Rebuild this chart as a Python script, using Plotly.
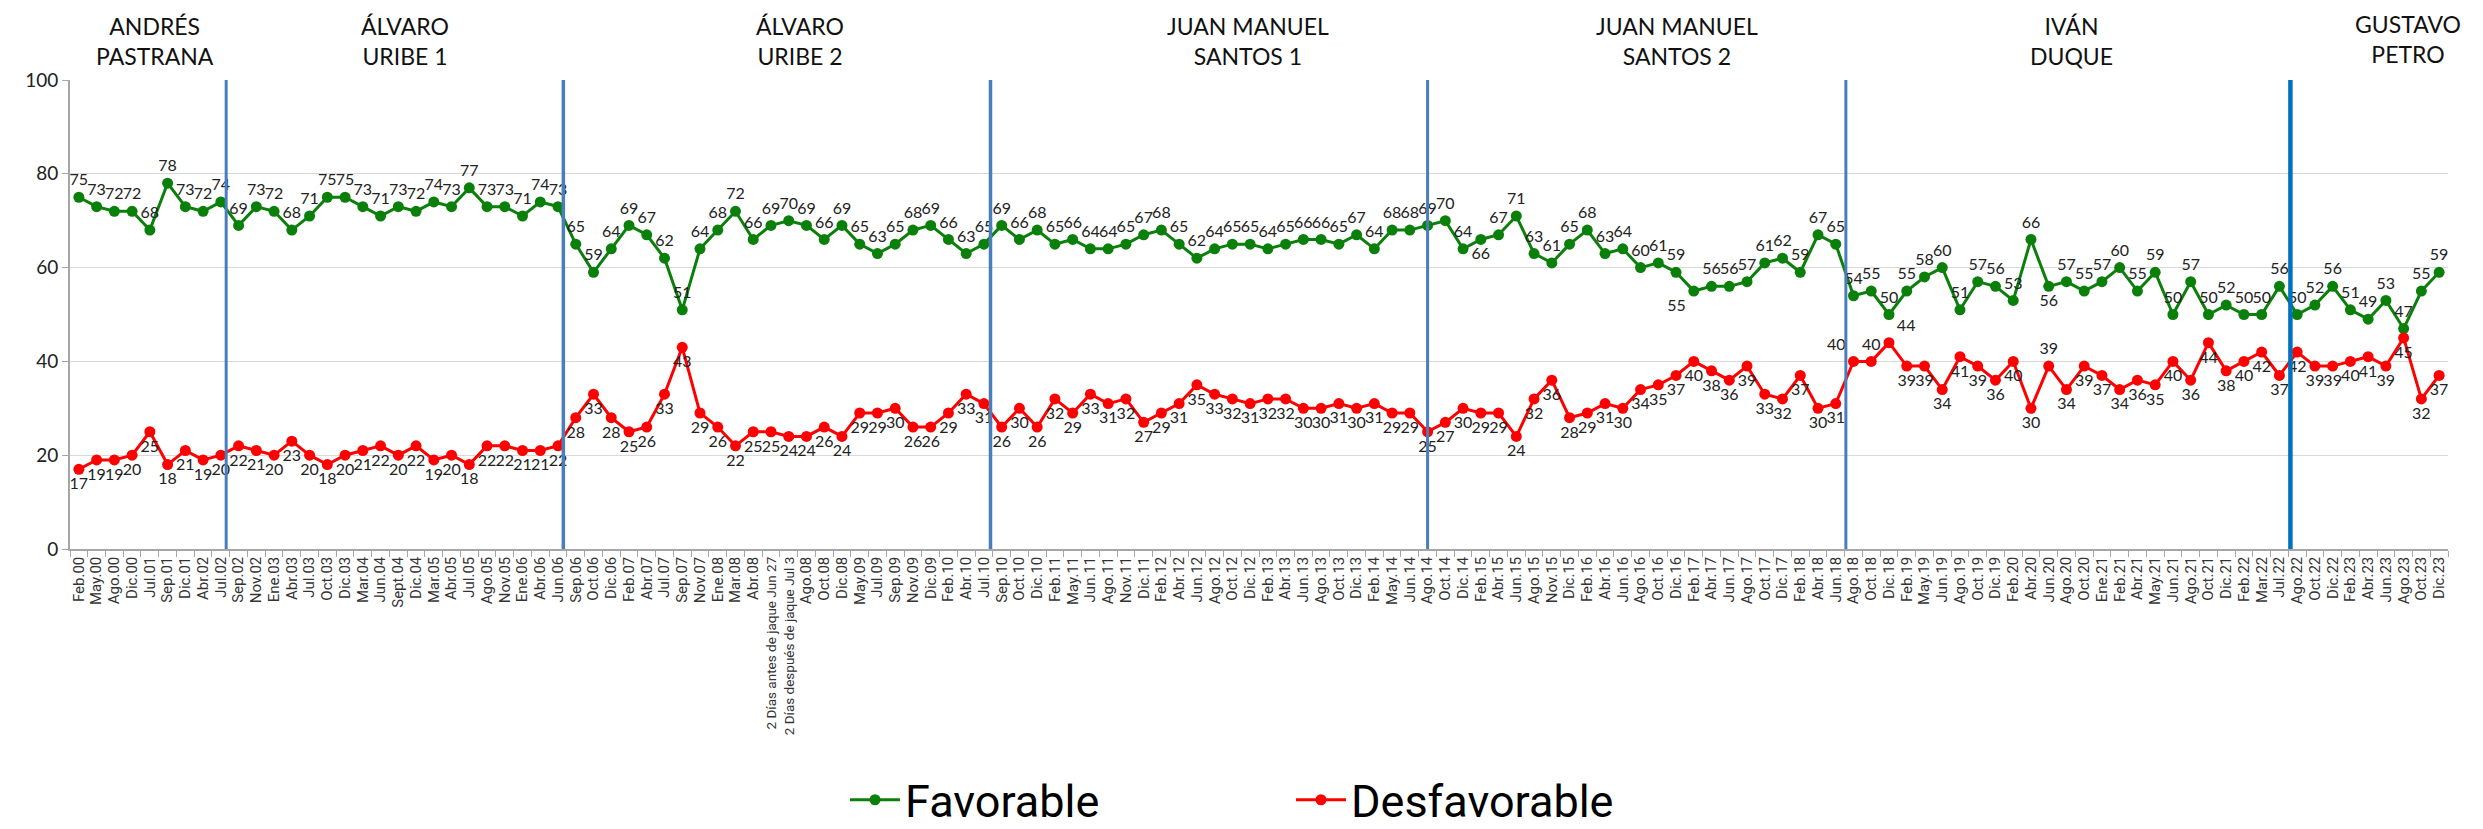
import plotly.graph_objects as go

categories = [
    "Feb.00", "May.00", "Ago.00", "Dic.00", "Jul.01", "Sep.01", "Dic.01", "Abr.02", "Jul.02",
    "Sep.02", "Nov.02", "Ene.03", "Abr.03", "Jul.03", "Oct.03", "Dic.03", "Mar.04", "Jun.04", "Sept.04",
    "Dic.04", "Mar.05", "Abr.05", "Jul.05", "Ago.05", "Nov.05", "Ene.06", "Abr.06", "Jun.06",
    "Sep.06", "Oct.06", "Dic.06", "Feb.07", "Abr.07", "Jul.07", "Sep.07", "Nov.07", "Ene.08", "Mar.08",
    "Abr.08", "2 Días antes de jaque Jun 27", "2 Días después de jaque Jul 3", "Ago.08", "Oct.08", "Dic.08",
    "May.09", "Jul.09", "Sep.09", "Nov.09", "Dic.09", "Feb.10", "Abr.10", "Jul.10",
    "Sep.10", "Oct.10", "Dic.10", "Feb.11", "May.11", "Jun.11", "Ago.11", "Nov.11", "Dic.11", "Feb.12",
    "Abr.12", "Jun.12", "Ago.12", "Oct.12", "Dic.12", "Feb.13", "Abr.13", "Jun.13", "Ago.13", "Oct.13",
    "Dic.13", "Feb.14", "May.14", "Jun.14",
    "Ago.14", "Oct.14", "Dic.14", "Feb.15", "Abr.15", "Jun.15", "Ago.15", "Nov.15", "Dic.15", "Feb.16",
    "Abr.16", "Jun.16", "Ago.16", "Oct.16", "Dic.16", "Feb.17", "Abr.17", "Jun.17", "Ago.17", "Oct.17",
    "Dic.17", "Feb.18", "Abr.18", "Jun.18",
    "Ago.18", "Oct.18", "Dic.18", "Feb.19", "May.19", "Jun.19", "Ago.19", "Oct.19", "Dic.19", "Feb.20",
    "Abr.20", "Jun.20", "Ago.20", "Oct.20", "Ene.21", "Feb.21", "Abr.21", "May.21", "Jun.21", "Ago.21",
    "Oct.21", "Dic.21", "Feb.22", "Mar.22", "Jul.22",
    "Ago.22", "Oct.22", "Dic.22", "Feb.23", "Abr.23", "Jun.23", "Ago.23", "Oct.23", "Dic.23",
]

favorable = [
    75, 73, 72, 72, 68, 78, 73, 72, 74,
    69, 73, 72, 68, 71, 75, 75, 73, 71, 73, 72, 74, 73, 77, 73, 73, 71, 74, 73,
    65, 59, 64, 69, 67, 62, 51, 64, 68, 72, 66, 69, 70, 69, 66, 69, 65, 63, 65, 68, 69, 66, 63, 65,
    69, 66, 68, 65, 66, 64, 64, 65, 67, 68, 65, 62, 64, 65, 65, 64, 65, 66, 66, 65, 67, 64, 68, 68,
    69, 70, 64, 66, 67, 71, 63, 61, 65, 68, 63, 64, 60, 61, 59, 55, 56, 56, 57, 61, 62, 59, 67, 65,
    54, 55, 50, 55, 58, 60, 51, 57, 56, 53, 66, 56, 57, 55, 57, 60, 55, 59, 50, 57, 50, 52, 50, 50, 56,
    50, 52, 56, 51, 49, 53, 47, 55, 59,
]

desfavorable = [
    17, 19, 19, 20, 25, 18, 21, 19, 20,
    22, 21, 20, 23, 20, 18, 20, 21, 22, 20, 22, 19, 20, 18, 22, 22, 21, 21, 22,
    28, 33, 28, 25, 26, 33, 43, 29, 26, 22, 25, 25, 24, 24, 26, 24, 29, 29, 30, 26, 26, 29, 33, 31,
    26, 30, 26, 32, 29, 33, 31, 32, 27, 29, 31, 35, 33, 32, 31, 32, 32, 30, 30, 31, 30, 31, 29, 29,
    25, 27, 30, 29, 29, 24, 32, 36, 28, 29, 31, 30, 34, 35, 37, 40, 38, 36, 39, 33, 32, 37, 30, 31,
    40, 40, 44, 39, 39, 34, 41, 39, 36, 40, 30, 39, 34, 39, 37, 34, 36, 35, 40, 36, 44, 38, 40, 42, 37,
    42, 39, 39, 40, 41, 39, 45, 32, 37,
]

period_titles = [
    "ANDRÉS<br>PASTRANA", "ÁLVARO<br>URIBE 1", "ÁLVARO<br>URIBE 2", "JUAN MANUEL<br>SANTOS 1",
    "JUAN MANUEL<br>SANTOS 2", "IVÁN<br>DUQUE", "GUSTAVO<br>PETRO",
]

# ---- styling / layout constants ----
W, H = 2483, 829
ML, MR, MT, MB = 62, 43, 72, 288
GREEN = "#0A800A"
RED = "#FF0000"

title_px = [(147, 33), (397, 33), (792, 33), (1240, 33), (1669, 33), (2063, 33), (2400, 31)]
separator_idx = [8.3, 27.3, 51.37, 76.0, 99.57, 124.62]
separator_style = [("#4A7EBB", 3), ("#4A7EBB", 3.5), ("#4A7EBB", 3.5), ("#4A7EBB", 3),
                   ("#4A7EBB", 3), ("#0070C0", 4.5)]

fav_pos_exc = {"Feb.15": "bottom center", "Feb.17": "bottom left", "Jun.20": "bottom center"}
des_pos_exc = {"Ago.18": "top left", "Oct.18": "top center", "Dic.18": "top right",
               "Jun.20": "top center"}
fav_pos = [fav_pos_exc.get(c, "top center") for c in categories]
des_pos = [des_pos_exc.get(c, "bottom center") for c in categories]

tick_text = [f'<span style="font-size:13.5px">{c}</span>' if len(c) > 8 else c for c in categories]

label_font = dict(family="Lato, Open Sans, sans-serif", size=16, color="#222222")

fig = go.Figure()
fig.add_trace(go.Scatter(
    x=categories, y=favorable, name="Favorable", mode="lines+markers+text",
    line=dict(color=GREEN, width=3), marker=dict(color=GREEN, size=11),
    text=[str(v) for v in favorable], textposition=fav_pos, textfont=label_font,
    cliponaxis=False,
))
fig.add_trace(go.Scatter(
    x=categories, y=desfavorable, name="Desfavorable", mode="lines+markers+text",
    line=dict(color=RED, width=3), marker=dict(color=RED, size=11),
    text=[str(v) for v in desfavorable], textposition=des_pos, textfont=label_font,
    cliponaxis=False,
))

for xi, (col, wd) in zip(separator_idx, separator_style):
    fig.add_shape(type="line", xref="x", yref="y", x0=xi, x1=xi, y0=0, y1=100,
                  line=dict(color=col, width=wd), layer="above")

pw = W - ML - MR
ph = H - MT - MB
for t, (px, py) in zip(period_titles, title_px):
    fig.add_annotation(text=t, xref="paper", yref="paper",
                       x=(px - ML) / pw, y=(H - MB - py) / ph,
                       xanchor="center", yanchor="middle", showarrow=False, align="center",
                       font=dict(family="Lato, DejaVu Sans, sans-serif", size=23, color="#111111"))

fig.update_layout(
    width=W, height=H,
    margin=dict(l=ML, r=MR, t=MT, b=MB, autoexpand=False),
    paper_bgcolor="white", plot_bgcolor="white",
    showlegend=True,
    legend=dict(orientation="h", x=(1283 - ML) / pw, xanchor="center",
                y=(H - MB - 792) / ph, yanchor="middle",
                font=dict(family="Roboto, sans-serif", size=45, color="#000000"),
                entrywidth=381, itemwidth=50),
)
fig.update_xaxes(
    type="category", tickangle=-90, showgrid=False,
    tickmode="array", tickvals=categories, ticktext=tick_text,
    showline=True, linecolor="#A6A6A6", linewidth=1.5,
    ticks="outside", tickson="boundaries", ticklen=6, tickcolor="#A6A6A6",
    tickfont=dict(family="Roboto, sans-serif", size=15, color="#333333"),
    range=[-0.5, len(categories) - 0.5],
)
fig.update_yaxes(
    range=[0, 100], dtick=20, showgrid=True, gridcolor="#D9D9D9", gridwidth=1,
    showline=True, linecolor="#A6A6A6", linewidth=2, zeroline=False,
    ticks="outside", ticklen=6, tickcolor="#A6A6A6",
    tickfont=dict(family="Lato, Open Sans, sans-serif", size=19, color="#222222"),
)

fig.write_html("out.html")
